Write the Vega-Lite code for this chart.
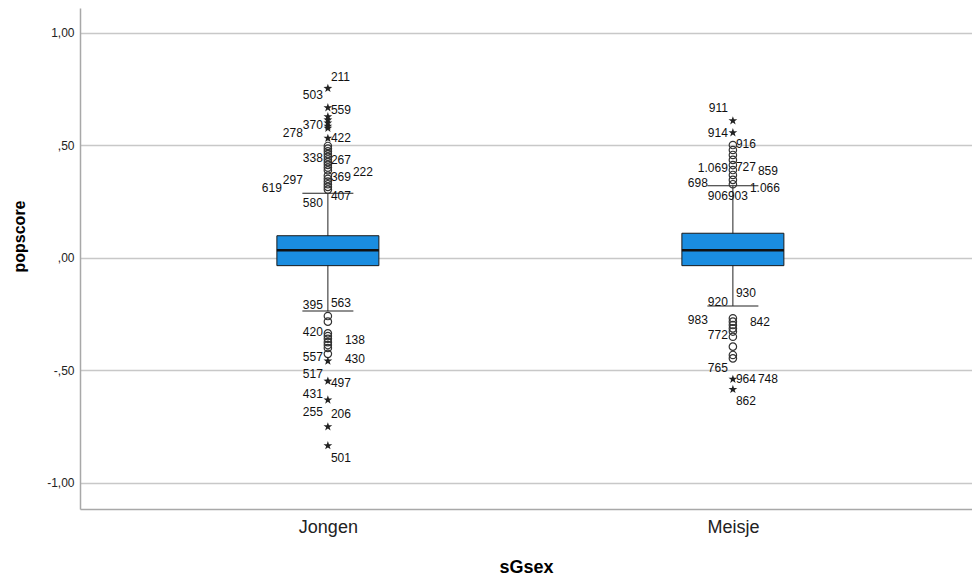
{
  "$schema": "https://vega.github.io/schema/vega-lite/v6.json",
  "width": 892,
  "height": 501,
  "autosize": {"type": "none"},
  "padding": {"left": 80, "top": 8, "right": 0, "bottom": 69},
  "background": "white",
  "datasets": {
    "stats": [
      {"sGsex": "Jongen", "whiskerLow": -0.236, "q1": -0.034, "median": 0.034, "q3": 0.099, "whiskerHigh": 0.288},
      {"sGsex": "Meisje", "whiskerLow": -0.213, "q1": -0.034, "median": 0.034, "q3": 0.110, "whiskerHigh": 0.321}
    ],
    "outliers": [
      {"sGsex": "Jongen", "popscore": 0.754, "kind": "star"},
      {"sGsex": "Jongen", "popscore": 0.668, "kind": "star"},
      {"sGsex": "Jongen", "popscore": 0.628, "kind": "star"},
      {"sGsex": "Jongen", "popscore": 0.614, "kind": "star"},
      {"sGsex": "Jongen", "popscore": 0.600, "kind": "star"},
      {"sGsex": "Jongen", "popscore": 0.586, "kind": "star"},
      {"sGsex": "Jongen", "popscore": 0.577, "kind": "star"},
      {"sGsex": "Jongen", "popscore": 0.532, "kind": "star"},
      {"sGsex": "Jongen", "popscore": -0.458, "kind": "star"},
      {"sGsex": "Jongen", "popscore": -0.547, "kind": "star"},
      {"sGsex": "Jongen", "popscore": -0.631, "kind": "star"},
      {"sGsex": "Jongen", "popscore": -0.750, "kind": "star"},
      {"sGsex": "Jongen", "popscore": -0.834, "kind": "star"},
      {"sGsex": "Jongen", "popscore": 0.498, "kind": "circle"},
      {"sGsex": "Jongen", "popscore": 0.486, "kind": "circle"},
      {"sGsex": "Jongen", "popscore": 0.474, "kind": "circle"},
      {"sGsex": "Jongen", "popscore": 0.462, "kind": "circle"},
      {"sGsex": "Jongen", "popscore": 0.450, "kind": "circle"},
      {"sGsex": "Jongen", "popscore": 0.438, "kind": "circle"},
      {"sGsex": "Jongen", "popscore": 0.426, "kind": "circle"},
      {"sGsex": "Jongen", "popscore": 0.414, "kind": "circle"},
      {"sGsex": "Jongen", "popscore": 0.402, "kind": "circle"},
      {"sGsex": "Jongen", "popscore": 0.390, "kind": "circle"},
      {"sGsex": "Jongen", "popscore": 0.366, "kind": "circle"},
      {"sGsex": "Jongen", "popscore": 0.352, "kind": "circle"},
      {"sGsex": "Jongen", "popscore": 0.340, "kind": "circle"},
      {"sGsex": "Jongen", "popscore": 0.328, "kind": "circle"},
      {"sGsex": "Jongen", "popscore": 0.316, "kind": "circle"},
      {"sGsex": "Jongen", "popscore": 0.304, "kind": "circle"},
      {"sGsex": "Jongen", "popscore": -0.258, "kind": "circle"},
      {"sGsex": "Jongen", "popscore": -0.283, "kind": "circle"},
      {"sGsex": "Jongen", "popscore": -0.335, "kind": "circle"},
      {"sGsex": "Jongen", "popscore": -0.347, "kind": "circle"},
      {"sGsex": "Jongen", "popscore": -0.359, "kind": "circle"},
      {"sGsex": "Jongen", "popscore": -0.374, "kind": "circle"},
      {"sGsex": "Jongen", "popscore": -0.387, "kind": "circle"},
      {"sGsex": "Jongen", "popscore": -0.400, "kind": "circle"},
      {"sGsex": "Jongen", "popscore": -0.426, "kind": "circle"},
      {"sGsex": "Meisje", "popscore": 0.610, "kind": "star"},
      {"sGsex": "Meisje", "popscore": 0.557, "kind": "star"},
      {"sGsex": "Meisje", "popscore": -0.539, "kind": "star"},
      {"sGsex": "Meisje", "popscore": -0.584, "kind": "star"},
      {"sGsex": "Meisje", "popscore": 0.502, "kind": "circle"},
      {"sGsex": "Meisje", "popscore": 0.480, "kind": "circle"},
      {"sGsex": "Meisje", "popscore": 0.458, "kind": "circle"},
      {"sGsex": "Meisje", "popscore": 0.436, "kind": "circle"},
      {"sGsex": "Meisje", "popscore": 0.413, "kind": "circle"},
      {"sGsex": "Meisje", "popscore": 0.391, "kind": "circle"},
      {"sGsex": "Meisje", "popscore": 0.369, "kind": "circle"},
      {"sGsex": "Meisje", "popscore": 0.347, "kind": "circle"},
      {"sGsex": "Meisje", "popscore": 0.328, "kind": "circle"},
      {"sGsex": "Meisje", "popscore": -0.268, "kind": "circle"},
      {"sGsex": "Meisje", "popscore": -0.283, "kind": "circle"},
      {"sGsex": "Meisje", "popscore": -0.298, "kind": "circle"},
      {"sGsex": "Meisje", "popscore": -0.313, "kind": "circle"},
      {"sGsex": "Meisje", "popscore": -0.327, "kind": "circle"},
      {"sGsex": "Meisje", "popscore": -0.350, "kind": "circle"},
      {"sGsex": "Meisje", "popscore": -0.394, "kind": "circle"},
      {"sGsex": "Meisje", "popscore": -0.431, "kind": "circle"},
      {"sGsex": "Meisje", "popscore": -0.446, "kind": "circle"}
    ],
    "labels": [
      {"sGsex": "Jongen", "id": "211", "popscore": 0.806, "slot": "R1"},
      {"sGsex": "Jongen", "id": "503", "popscore": 0.724, "slot": "L1"},
      {"sGsex": "Jongen", "id": "559", "popscore": 0.658, "slot": "R1"},
      {"sGsex": "Jongen", "id": "370", "popscore": 0.591, "slot": "L1"},
      {"sGsex": "Jongen", "id": "278", "popscore": 0.557, "slot": "L2"},
      {"sGsex": "Jongen", "id": "422", "popscore": 0.532, "slot": "R1"},
      {"sGsex": "Jongen", "id": "338", "popscore": 0.446, "slot": "L1"},
      {"sGsex": "Jongen", "id": "267", "popscore": 0.436, "slot": "R1"},
      {"sGsex": "Jongen", "id": "222", "popscore": 0.384, "slot": "R3"},
      {"sGsex": "Jongen", "id": "369", "popscore": 0.359, "slot": "R1"},
      {"sGsex": "Jongen", "id": "297", "popscore": 0.347, "slot": "L2"},
      {"sGsex": "Jongen", "id": "619", "popscore": 0.310, "slot": "L3"},
      {"sGsex": "Jongen", "id": "407", "popscore": 0.276, "slot": "R1"},
      {"sGsex": "Jongen", "id": "580", "popscore": 0.243, "slot": "L1"},
      {"sGsex": "Jongen", "id": "395", "popscore": -0.209, "slot": "L1"},
      {"sGsex": "Jongen", "id": "563", "popscore": -0.201, "slot": "R1"},
      {"sGsex": "Jongen", "id": "420", "popscore": -0.330, "slot": "L1"},
      {"sGsex": "Jongen", "id": "138", "popscore": -0.364, "slot": "R2"},
      {"sGsex": "Jongen", "id": "557", "popscore": -0.439, "slot": "L1"},
      {"sGsex": "Jongen", "id": "430", "popscore": -0.449, "slot": "R2"},
      {"sGsex": "Jongen", "id": "517", "popscore": -0.517, "slot": "L1"},
      {"sGsex": "Jongen", "id": "497", "popscore": -0.557, "slot": "R1"},
      {"sGsex": "Jongen", "id": "431", "popscore": -0.606, "slot": "L1"},
      {"sGsex": "Jongen", "id": "255", "popscore": -0.683, "slot": "L1"},
      {"sGsex": "Jongen", "id": "206", "popscore": -0.695, "slot": "R1"},
      {"sGsex": "Jongen", "id": "501", "popscore": -0.888, "slot": "R1"},
      {"sGsex": "Meisje", "id": "911", "popscore": 0.665, "slot": "L1"},
      {"sGsex": "Meisje", "id": "914", "popscore": 0.557, "slot": "L1"},
      {"sGsex": "Meisje", "id": "916", "popscore": 0.505, "slot": "R1"},
      {"sGsex": "Meisje", "id": "1.069", "popscore": 0.399, "slot": "L1"},
      {"sGsex": "Meisje", "id": "727", "popscore": 0.403, "slot": "R1"},
      {"sGsex": "Meisje", "id": "859", "popscore": 0.387, "slot": "R3"},
      {"sGsex": "Meisje", "id": "698", "popscore": 0.332, "slot": "L2"},
      {"sGsex": "Meisje", "id": "1.066", "popscore": 0.312, "slot": "R2"},
      {"sGsex": "Meisje", "id": "906", "popscore": 0.276, "slot": "L1"},
      {"sGsex": "Meisje", "id": "903", "popscore": 0.276, "slot": "C"},
      {"sGsex": "Meisje", "id": "920", "popscore": -0.194, "slot": "L1"},
      {"sGsex": "Meisje", "id": "930", "popscore": -0.157, "slot": "R1"},
      {"sGsex": "Meisje", "id": "983", "popscore": -0.276, "slot": "L2"},
      {"sGsex": "Meisje", "id": "842", "popscore": -0.283, "slot": "R2"},
      {"sGsex": "Meisje", "id": "772", "popscore": -0.342, "slot": "L1"},
      {"sGsex": "Meisje", "id": "765", "popscore": -0.490, "slot": "L1"},
      {"sGsex": "Meisje", "id": "964", "popscore": -0.539, "slot": "R1"},
      {"sGsex": "Meisje", "id": "748", "popscore": -0.539, "slot": "R3"},
      {"sGsex": "Meisje", "id": "862", "popscore": -0.634, "slot": "R1"}
    ]
  },
  "encoding": {
    "x": {
      "field": "sGsex",
      "type": "nominal",
      "sort": ["Jongen", "Meisje"],
      "scale": {"type": "point", "padding": 0.6012, "align": 0.509},
      "title": "sGsex"
    }
  },
  "layer": [
    {
      "data": {"name": "stats"},
      "mark": {"type": "rule", "color": "#222", "strokeWidth": 1},
      "encoding": {
        "y": {"field": "whiskerLow", "type": "quantitative", "title": "popscore",
              "scale": {"domain": [-1.1156, 1.1111], "nice": false, "zero": false},
              "axis": {"values": [-1, -0.5, 0, 0.5, 1],
                       "labelExpr": "datum.value == 1 ? '1,00' : datum.value == 0.5 ? ',50' : datum.value == 0 ? ',00' : datum.value == -0.5 ? '-,50' : '-1,00'"}},
        "y2": {"field": "whiskerHigh"}
      }
    },
    {
      "data": {"name": "stats"},
      "mark": {"type": "bar", "size": 102, "fill": "#1a8de0", "stroke": "#1a1a1a", "strokeWidth": 1},
      "encoding": {
        "y": {"field": "q1", "type": "quantitative", "title": "popscore"},
        "y2": {"field": "q3"}
      }
    },
    {
      "data": {"name": "stats"},
      "mark": {"type": "tick", "size": 102, "thickness": 2.5, "color": "#111", "opacity": 1},
      "encoding": {"y": {"field": "median", "type": "quantitative", "title": "popscore"}}
    },
    {
      "data": {"name": "stats"},
      "mark": {"type": "tick", "size": 51, "thickness": 1, "color": "#222", "opacity": 1},
      "encoding": {"y": {"field": "whiskerHigh", "type": "quantitative", "title": "popscore"}}
    },
    {
      "data": {"name": "stats"},
      "mark": {"type": "tick", "size": 51, "thickness": 1, "color": "#222", "opacity": 1},
      "encoding": {"y": {"field": "whiskerLow", "type": "quantitative", "title": "popscore"}}
    },
    {
      "data": {"name": "outliers"},
      "transform": [{"filter": "datum.kind == 'circle'"}],
      "mark": {"type": "point", "shape": "circle", "filled": false, "stroke": "#333", "strokeWidth": 1.2, "size": 55, "opacity": 1},
      "encoding": {"y": {"field": "popscore", "type": "quantitative", "title": "popscore"}}
    },
    {
      "data": {"name": "outliers"},
      "transform": [{"filter": "datum.kind == 'star'"}],
      "mark": {"type": "point", "shape": "M0,-1L0.235,-0.324L0.951,-0.309L0.38,0.124L0.588,0.809L0,0.4L-0.588,0.809L-0.38,0.124L-0.951,-0.309L-0.235,-0.324Z", "filled": true, "fill": "#222", "strokeWidth": 0, "size": 85, "opacity": 1},
      "encoding": {"y": {"field": "popscore", "type": "quantitative", "title": "popscore"}}
    },
    {
      "data": {"name": "labels"},
      "transform": [{"filter": "datum.slot == 'L1'"}],
      "mark": {"type": "text", "align": "right", "baseline": "middle", "dx": -5, "font": "Liberation Sans", "fontSize": 12, "color": "#111"},
      "encoding": {"y": {"field": "popscore", "type": "quantitative", "title": "popscore"}, "text": {"field": "id"}}
    },
    {
      "data": {"name": "labels"},
      "transform": [{"filter": "datum.slot == 'L2'"}],
      "mark": {"type": "text", "align": "right", "baseline": "middle", "dx": -25, "font": "Liberation Sans", "fontSize": 12, "color": "#111"},
      "encoding": {"y": {"field": "popscore", "type": "quantitative", "title": "popscore"}, "text": {"field": "id"}}
    },
    {
      "data": {"name": "labels"},
      "transform": [{"filter": "datum.slot == 'L3'"}],
      "mark": {"type": "text", "align": "right", "baseline": "middle", "dx": -46, "font": "Liberation Sans", "fontSize": 12, "color": "#111"},
      "encoding": {"y": {"field": "popscore", "type": "quantitative", "title": "popscore"}, "text": {"field": "id"}}
    },
    {
      "data": {"name": "labels"},
      "transform": [{"filter": "datum.slot == 'C'"}],
      "mark": {"type": "text", "align": "left", "baseline": "middle", "dx": -5, "font": "Liberation Sans", "fontSize": 12, "color": "#111"},
      "encoding": {"y": {"field": "popscore", "type": "quantitative", "title": "popscore"}, "text": {"field": "id"}}
    },
    {
      "data": {"name": "labels"},
      "transform": [{"filter": "datum.slot == 'R1'"}],
      "mark": {"type": "text", "align": "left", "baseline": "middle", "dx": 3, "font": "Liberation Sans", "fontSize": 12, "color": "#111"},
      "encoding": {"y": {"field": "popscore", "type": "quantitative", "title": "popscore"}, "text": {"field": "id"}}
    },
    {
      "data": {"name": "labels"},
      "transform": [{"filter": "datum.slot == 'R2'"}],
      "mark": {"type": "text", "align": "left", "baseline": "middle", "dx": 17, "font": "Liberation Sans", "fontSize": 12, "color": "#111"},
      "encoding": {"y": {"field": "popscore", "type": "quantitative", "title": "popscore"}, "text": {"field": "id"}}
    },
    {
      "data": {"name": "labels"},
      "transform": [{"filter": "datum.slot == 'R3'"}],
      "mark": {"type": "text", "align": "left", "baseline": "middle", "dx": 25, "font": "Liberation Sans", "fontSize": 12, "color": "#111"},
      "encoding": {"y": {"field": "popscore", "type": "quantitative", "title": "popscore"}, "text": {"field": "id"}}
    }
  ],
  "config": {
    "view": {"stroke": null},
    "axisY": {
      "grid": true,
      "gridColor": "#c8c8c8",
      "gridWidth": 1.3,
      "domainColor": "#a8a8a8",
      "domainWidth": 1.5,
      "ticks": false,
      "labelPadding": 6,
      "labelFont": "Liberation Sans",
      "labelFontSize": 12,
      "labelColor": "#222",
      "titleFont": "Liberation Sans",
      "titleFontSize": 16,
      "titleFontWeight": "bold",
      "titleColor": "#000",
      "titleX": -61,
      "titleY": 228,
      "titleAlign": "center",
      "titleBaseline": "middle",
      "titleAngle": -90
    },
    "axisX": {
      "grid": false,
      "ticks": false,
      "domainColor": "#a8a8a8",
      "domainWidth": 1.5,
      "labelFont": "Liberation Sans",
      "labelFontSize": 18,
      "labelColor": "#222",
      "labelPadding": 9,
      "labelAngle": 0,
      "titleFont": "Liberation Sans",
      "titleFontSize": 18,
      "titleFontWeight": "bold",
      "titleColor": "#000",
      "titleY": 58,
      "titleBaseline": "middle"
    }
  }
}
